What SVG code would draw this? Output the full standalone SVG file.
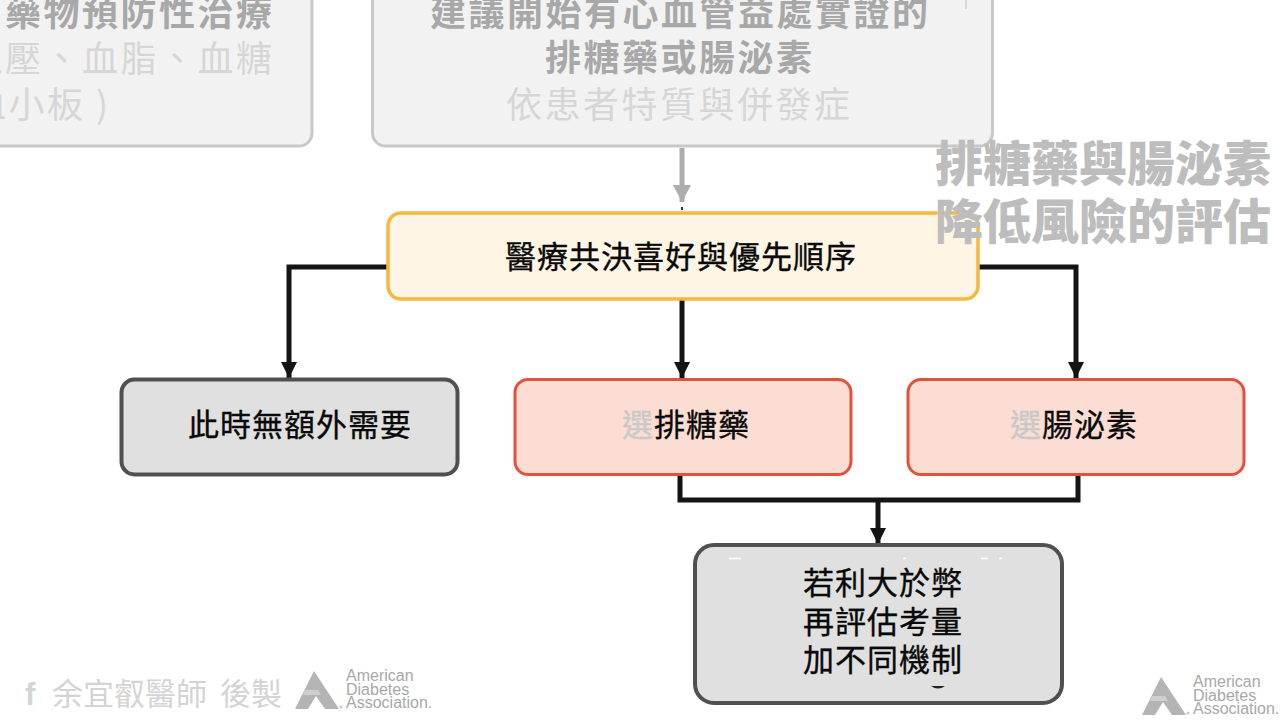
<svg xmlns="http://www.w3.org/2000/svg" width="1280" height="720" viewBox="0 0 1280 720">
<style>
text{font-family:"Noto Sans CJK TC","Noto Sans CJK SC",sans-serif}
.faded{fill:#f2f2f2;stroke:#c8c8c8;stroke-width:3}
.gray{fill:#e0e0e0;stroke:#505050;stroke-width:4}
.red{fill:#fcddd3;stroke:#e4503a;stroke-width:3}
.yellow{fill:#fff5e4;stroke:#f5b942;stroke-width:3.5}
.lbl{font-size:31px;font-weight:400;fill:#0a0a0a;stroke:#0a0a0a;stroke-width:.35px;letter-spacing:1px}
.lbl tspan.g{fill:#c9c9c9;stroke:#c9c9c9}
.fh{font-size:36px;font-weight:700;fill:#a8a8a8;letter-spacing:2.5px}
.fs{font-size:36px;font-weight:400;fill:#d6d6d6;letter-spacing:2.5px}
.title{font-size:48px;font-weight:900;fill:#bdbdbd}
.wm{font-size:31px;font-weight:400;fill:#d4d4d4}
.wf{font-family:"Liberation Sans",Arial,sans-serif;font-size:31px;font-weight:700;fill:#d4d4d4}
.ada{font-family:"Liberation Sans",Arial,sans-serif;font-size:16px;fill:#a8a8a8}
.conn{fill:none;stroke:#141414;stroke-width:5}
.connf{fill:none;stroke:#adadad;stroke-width:5}
.logo{fill:#b4b4b4}
</style>
<defs>
<marker id="ah" markerUnits="userSpaceOnUse" markerWidth="16" markerHeight="16" refX="16" refY="8" orient="auto"><path d="M0 0L16 8L0 16Z" fill="#141414"/></marker>
<marker id="ahf" markerUnits="userSpaceOnUse" markerWidth="17" markerHeight="18" refX="17" refY="9" orient="auto"><path d="M0 0L17 9L0 18Z" fill="#adadad"/></marker>
<g id="adalogo">
<path class="logo" d="M19 0L44 38H0Z"/>
<path d="M21 25L30 38H13Z" fill="#fff"/>
<path d="M10 19H23L26 24H8Z" fill="#cfcfcf"/>
<circle cx="46" cy="36" r="1.500" fill="#c8c8c8"/>
<text class="ada" x="51" y="10">American</text>
<text class="ada" x="51" y="24">Diabetes</text>
<text class="ada" x="51" y="37">Association.</text>
</g>
</defs>

<g id="connectors">
<path class="connf" d="M682 148V202" marker-end="url(#ahf)"/>
<path class="conn" d="M387 267H289V378" marker-end="url(#ah)"/>
<path class="conn" d="M682 300V378" marker-end="url(#ah)"/>
<path class="conn" d="M978 267H1076V378" marker-end="url(#ah)"/>
<path class="conn" d="M680 475V500H1078V475"/>
<path class="conn" d="M878 500V544" marker-end="url(#ah)"/>
</g>

<g id="node-left-faded">
<rect class="faded" x="-30" y="-30" width="342" height="176" rx="13"/>
<text class="fh" text-anchor="end" x="274.500" y="26">用藥物預防性治療</text>
<text class="fs" text-anchor="end" x="274.500" y="72">血壓、血脂、血糖</text>
<text class="fs" x="-30" y="118">血小板 )</text>
</g>
<g id="node-top-faded">
<rect class="faded" x="372.500" y="-30" width="620" height="176" rx="13"/>
<text class="fh" x="430" y="26">建議開始有心血管益處實證的</text>
<text class="fh" x="545" y="71">排糖藥或腸泌素</text>
<text class="fs" x="506" y="118">依患者特質與併發症</text>
<path d="M966 0V9" stroke="#cfcfcf" stroke-width="1.500" fill="none"/>
</g>
<g id="node-decision">
<rect class="yellow" x="388" y="213" width="590" height="86" rx="13"/>
<text class="lbl" x="505" y="268">醫療共決喜好與優先順序</text>
<path d="M681 207h2v3h-2z" fill="#333"/>
</g>
<g id="node-none">
<rect class="gray" x="121.500" y="379.500" width="336" height="95" rx="13"/>
<text class="lbl" x="188" y="436">此時無額外需要</text>
</g>
<g id="node-sglt2">
<rect class="red" x="515" y="379.500" width="336" height="95" rx="13"/>
<text class="lbl" x="622" y="436"><tspan class="g">選</tspan>排糖藥</text>
</g>
<g id="node-glp1">
<rect class="red" x="908" y="379.500" width="336" height="95" rx="13"/>
<text class="lbl" x="1010" y="436"><tspan class="g">選</tspan>腸泌素</text>
</g>
<g id="node-reassess">
<rect class="gray" x="695" y="545" width="367" height="158" rx="19"/>
<path d="M729 558.500h12M903 558.500h3M981 558.500h7M999 558.500h3" stroke="#fff" stroke-width="1.500" fill="none"/>
<text class="lbl" x="803" y="594">若利大於弊</text>
<text class="lbl" x="803" y="633">再評估考量</text>
<text class="lbl" x="803" y="671">加不同機制</text>
<path d="M931 686q7 5 14 0z" fill="#222"/>
</g>
<g id="title">
<text class="title" x="935" y="181">排糖藥與腸泌素</text>
<text class="title" x="935" y="239">降低風險的評估</text>
</g>
<g id="watermark">
<text class="wf" x="25" y="705">f</text>
<text class="wm" x="52" y="705">余宜叡醫師</text>
<text class="wm" x="220" y="705">後製</text>
</g>
<use id="logo-left" href="#adalogo" x="295" y="671"/>
<use id="logo-right" href="#adalogo" x="1142" y="677"/>
</svg>
